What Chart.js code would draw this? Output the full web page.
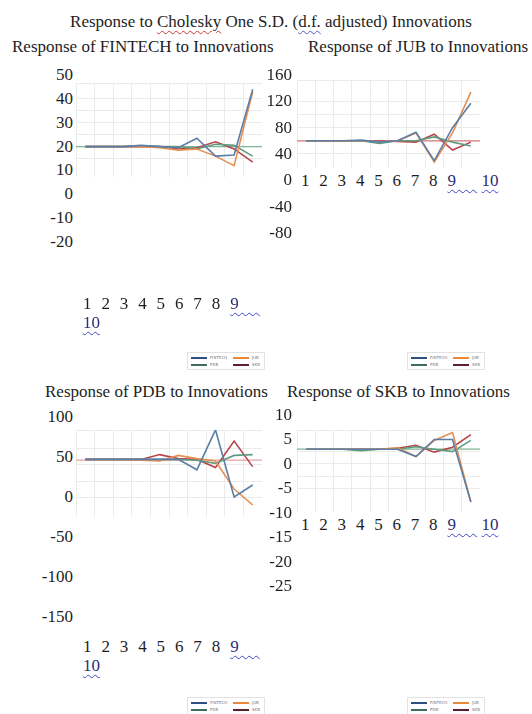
<!DOCTYPE html>
<html>
<head>
<meta charset="utf-8">
<script src="https://cdn.jsdelivr.net/npm/chart.js@4.4.1/dist/chart.umd.min.js"></script>
<style>
  html, body { margin:0; padding:0; background:#fff; }
  #page { position:relative; width:532px; height:714px; overflow:hidden;
          font-family:'Liberation Serif','Times New Roman',serif; color:#1e1e1e; font-size:17px; }
  .t { position:absolute; white-space:nowrap; line-height:20px; }
  .yl { position:absolute; width:60px; text-align:right; line-height:20px; }
  .xrow { position:absolute; line-height:19px; }
  .xrow span { display:inline-block; }
  .sq { text-decoration: underline wavy #3a48c8; text-decoration-thickness:1px; text-underline-offset:3px; color:#2c2c7a; }
  .sqr { text-decoration: underline wavy #d03a3a; text-decoration-thickness:1px; text-underline-offset:3px; }
  .sqb { text-decoration: underline wavy #5a5ad0; text-decoration-thickness:1px; text-underline-offset:3px; }
  canvas { position:absolute; }
  .leg { position:absolute; border:1px solid #e2e2e2; font-family:'DejaVu Sans',sans-serif; font-size:4px; color:#777; }
  .leg .it { position:absolute; height:6px; }
  .leg .ln { position:absolute; top:2px; width:16px; height:1.5px; }
  .leg .lt { position:absolute; left:19px; top:0; line-height:6px; }
</style>
</head>
<body>
<div id="page">
  <div class="t" style="left:0;width:542px;text-align:center;top:12px;">Response to <span class="sqr">Cholesky</span> One S.D. (<span class="sqb">d.f.</span> adjusted) Innovations</div>
  <div class="t" style="left:12px;top:37px;">Response of FINTECH to Innovations</div>
  <div class="t" style="left:308px;top:37px;">Response of JUB to Innovations</div>
  <div class="t" style="left:45px;top:382px;">Response of PDB to Innovations</div>
  <div class="t" style="left:287px;top:382px;">Response of SKB to Innovations</div>
  <canvas id="c1" width="186" height="94" style="left:76px;top:83px;"></canvas>
  <canvas id="c2" width="183" height="88" style="left:297px;top:80px;"></canvas>
  <canvas id="c3" width="186" height="87" style="left:76px;top:430px;"></canvas>
  <canvas id="c4" width="183" height="82" style="left:297px;top:430px;"></canvas>
</div>
<script>
// ---------- data ----------
const xLabels = ['1','2','3','4','5','6','7','8','9','10'];
const seriesNames = ['FINTECH','JUB','PDB','SKB'];

// Response of FINTECH
const fintechToFintech = [20, 20, 20, 20.5, 20, 19.5, 23.5, 16, 16.5, 44];
const fintechToJub     = [20, 20, 20, 20, 19.5, 18.5, 19, 16, 12, 43];
const fintechToPdb     = [20, 20, 20, 20.3, 20, 20, 19, 21, 20.5, 16];
const fintechToSkb     = [20, 20, 20, 20, 20, 19, 19.5, 22, 19, 13.5];
const fintechBase = 20;
const fintechYTicks = ['50','40','30','20','10','0','-10','-20'];

// Response of JUB
const jubToFintech = [60, 60, 60, 61, 58, 60, 73, 30, 80, 117];
const jubToJub     = [60, 60, 60, 60, 59, 60, 72, 28, 72, 134];
const jubToPdb     = [60, 60, 60, 60, 56, 60, 60, 66, 58, 52];
const jubToSkb     = [60, 60, 60, 60, 60, 59, 58, 70, 46, 58];
const jubBase = 60;
const jubYTicks = ['160','120','80','40','0','-40','-80'];

// Response of PDB
const pdbToFintech = [47, 47, 47, 47, 47, 47, 34, 84, 0, 15];
const pdbToJub     = [47, 47, 47, 46, 45, 52, 48, 45, 10, -10];
const pdbToPdb     = [47, 47, 47, 47, 47, 47, 46, 42, 52, 53];
const pdbToSkb     = [47, 47, 47, 47, 53, 48, 47, 37, 70, 38];
const pdbBase = 46;
const pdbYTicks = ['100','50','0','-50','-100','-150'];

// Response of SKB
const skbToFintech = [3, 3, 3, 3, 3, 3, 1.5, 5, 5, -7.8];
const skbToJub     = [3, 3, 3, 3, 3, 3.3, 1.5, 4.8, 6.4, -7.8];
const skbToPdb     = [3, 3, 3, 2.7, 3, 3, 3.5, 3, 2.5, 4.8];
const skbToSkb     = [3, 3, 3, 3, 3, 3.2, 3.8, 2.4, 3.4, 6];
const skbBase = 3;
const skbYTicks = ['10','5','0','-5','-10','-15','-20','-25'];

// ---------- styles ----------
const lineColors = ['#5a7ea8', '#e58f52', '#5f9c80', '#b8444a'];
const legendColors = ['#2f4f80', '#e8893a', '#3f6b60', '#5a2030'];
const page = document.getElementById('page');

function makeChart(id, series, base, baseColor, yMin, yMax, yStep) {
  const ds = series.map((d, i) => ({
    label: seriesNames[i], data: d, borderColor: lineColors[i], borderWidth: 1.6,
    pointRadius: 0, tension: 0, fill: false, xAxisID: 'x', yAxisID: 'y', order: 1
  }));
  ds.push({ label: 'base', data: [{x: 0, y: base}, {x: 1, y: base}], borderColor: baseColor,
    borderWidth: 1.3, pointRadius: 0, tension: 0, fill: false, xAxisID: 'xb', yAxisID: 'y', order: 10 });
  new Chart(document.getElementById(id), {
    type: 'line',
    data: { labels: xLabels, datasets: ds },
    options: {
      responsive: false, animation: false,
      layout: { padding: 0 },
      plugins: { legend: { display: false }, tooltip: { enabled: false } },
      scales: {
        x: { type: 'category', offset: true, grid: { offset: true, color: '#ebebeb', drawTicks: false },
             border: { display: false }, ticks: { display: false }, afterFit: s => { s.height = 0; } },
        xb: { type: 'linear', min: 0, max: 1, display: false },
        y: { min: yMin, max: yMax, ticks: { display: false, stepSize: yStep },
             grid: { color: '#ebebeb', drawTicks: false }, border: { display: false },
             afterFit: s => { s.width = 0; } }
      }
    }
  });
}

function yLabels(ticks, rightEdge, firstCenter, step) {
  ticks.forEach((t, k) => {
    const d = document.createElement('div');
    d.className = 'yl';
    d.textContent = t;
    d.style.left = (rightEdge - 60) + 'px';
    d.style.top = (firstCenter + k * step - 10) + 'px';
    page.appendChild(d);
  });
}

function xRow(left, centerY, width, cell) {
  const row = document.createElement('div');
  row.className = 'xrow';
  row.style.left = left + 'px';
  row.style.top = (centerY - 9.5) + 'px';
  row.style.width = width + 'px';
  xLabels.forEach((lab, i) => {
    const s = document.createElement('span');
    if (i < xLabels.length - 2) {
      s.style.width = cell + 'px';
      s.textContent = lab;
    } else if (i === xLabels.length - 2) {
      s.className = 'sq';
      s.innerHTML = lab + '&nbsp;&nbsp;&nbsp;&nbsp;&nbsp;';
    } else {
      s.className = 'sq';
      s.textContent = lab;
    }
    row.appendChild(s);
    if (i === xLabels.length - 2) row.appendChild(document.createTextNode(' '));
  });
  page.appendChild(row);
}

function legend(left, top) {
  const box = document.createElement('div');
  box.className = 'leg';
  box.style.left = left + 'px';
  box.style.top = top + 'px';
  box.style.width = '76px';
  box.style.height = '16px';
  seriesNames.forEach((n, i) => {
    const it = document.createElement('div');
    it.className = 'it';
    it.style.left = (3 + (i % 2) * 42) + 'px';
    it.style.top = (2 + Math.floor(i / 2) * 7) + 'px';
    const ln = document.createElement('div');
    ln.className = 'ln';
    ln.style.background = legendColors[i];
    const lt = document.createElement('div');
    lt.className = 'lt';
    lt.textContent = n;
    it.appendChild(ln); it.appendChild(lt);
    box.appendChild(it);
  });
  page.appendChild(box);
}

makeChart('c1', [fintechToFintech, fintechToJub, fintechToPdb, fintechToSkb], fintechBase, '#7db592', 7.25, 46.65, 5);
makeChart('c2', [jubToFintech, jubToJub, jubToPdb, jubToSkb], jubBase, '#d77a7a', 18.7, 152.4, 20);
makeChart('c3', [pdbToFintech, pdbToJub, pdbToPdb, pdbToSkb], pdbBase, '#e3a3a3', -25, 83.75, 20);
makeChart('c4', [skbToFintech, skbToJub, skbToPdb, skbToSkb], skbBase, '#7db592', -9.85, 6.93, 2.5);

yLabels(fintechYTicks, 73, 75, 23.86);
yLabels(jubYTicks, 292, 75, 26.33);
yLabels(pdbYTicks, 73, 417, 40);
yLabels(skbYTicks, 292, 415, 24.43);

xRow(83, 303, 182, 18.4);
xRow(301, 180, 215, 18.3);
xRow(83, 646, 182, 18.4);
xRow(301, 524, 215, 18.3);

legend(187, 352);
legend(407, 352);
legend(187, 697);
legend(407, 697);
</script>
</body>
</html>
